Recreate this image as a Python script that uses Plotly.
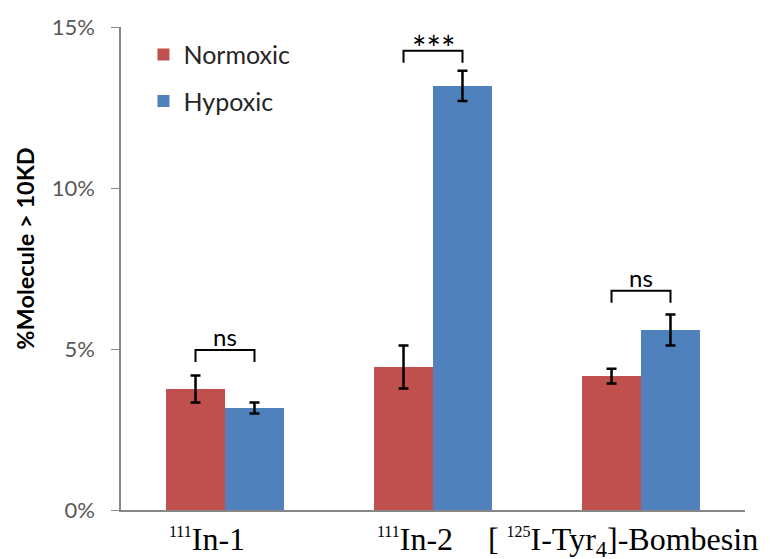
import plotly.graph_objects as go

categories = ["In-1", "In-2", "Bombesin"]
tick_labels = [
    "<sup><span style='font-size:16px'>111</span></sup>In-1",
    "<sup><span style='font-size:16px'>111</span></sup>In-2",
    "[&nbsp;<sup><span style='font-size:16px'>125</span></sup>I-Tyr<sub>4</sub>]-Bombesin",
]
normoxic = [0.0376, 0.0444, 0.0416]
normoxic_err = [0.0042, 0.0067, 0.0023]
hypoxic = [0.0317, 0.1317, 0.0559]
hypoxic_err = [0.0017, 0.0047, 0.0048]
sig_labels = ["ns", "***", "ns"]
bracket_y = [0.0497, 0.1426, 0.0681]

x_idx = [0, 1, 2]
fig = go.Figure()
fig.add_trace(go.Bar(
    x=x_idx, y=normoxic, name="Normoxic", marker_color="#C0504D",
    marker_line_width=0, legendgroup="a",
    error_y=dict(type="data", array=normoxic_err, color="black", thickness=2.5, width=5),
))
fig.add_trace(go.Bar(
    x=x_idx, y=hypoxic, name="Hypoxic", marker_color="#4F81BD",
    marker_line_width=0, legendgroup="b",
    error_y=dict(type="data", array=hypoxic_err, color="black", thickness=2.5, width=5),
))

off = 0.1418
drop = 0.0037
for i, (lab, by) in enumerate(zip(sig_labels, bracket_y)):
    x0, x1 = i - off, i + off
    fig.add_shape(type="path",
                  path=f"M {x0} {by - drop} L {x0} {by} L {x1} {by} L {x1} {by - drop}",
                  xref="x", yref="y", line=dict(color="black", width=2))
    star = lab == "***"
    fig.add_annotation(x=i, y=by, text=lab, showarrow=False, yanchor="bottom",
                       yshift=-19 if star else -3,
                       font=dict(family="Lato, Open Sans, sans-serif", size=34 if star else 24,
                                 color="black"))

fig.update_layout(
    width=772, height=559,
    margin=dict(l=113, r=35, t=19, b=57, autoexpand=False),
    paper_bgcolor="white", plot_bgcolor="white",
    barmode="group", bargap=0.433, bargroupgap=0,
    legend=dict(x=0.036, y=0.99, xanchor="left", yanchor="top",
                font=dict(family="Lato, Open Sans, sans-serif", size=25, color="#262626"),
                tracegroupgap=11, itemwidth=30, bgcolor="rgba(0,0,0,0)"),
    xaxis=dict(tickmode="array", tickvals=x_idx, ticktext=tick_labels,
               range=[-0.5, 2.5], showline=True, linecolor="#868686", linewidth=1.5,
               ticks="", showgrid=False, zeroline=False, automargin=False,
               ticklabelshift=-18, ticklabelstandoff=0,
               tickfont=dict(family="Liberation Serif, Times New Roman, serif", size=32, color="black")),
    yaxis=dict(title=dict(text="<b>" + "&nbsp;" * 7 + "%Molecule > 10KD</b>", standoff=10,
                          font=dict(family="Lato, Open Sans, sans-serif", size=23.5, color="black")),
               range=[0, 0.15], dtick=0.05, tickformat=".0%", automargin=False,
               showline=True, linecolor="#868686", linewidth=1.5,
               ticks="outside", ticklen=8, tickcolor="#868686",
               showgrid=False, zeroline=False, ticklabelstandoff=12,
               tickfont=dict(family="Lato, Open Sans, sans-serif", size=22, color="#595959")),
    font=dict(family="Lato, Open Sans, sans-serif"),
)
fig.write_html("out.html")
